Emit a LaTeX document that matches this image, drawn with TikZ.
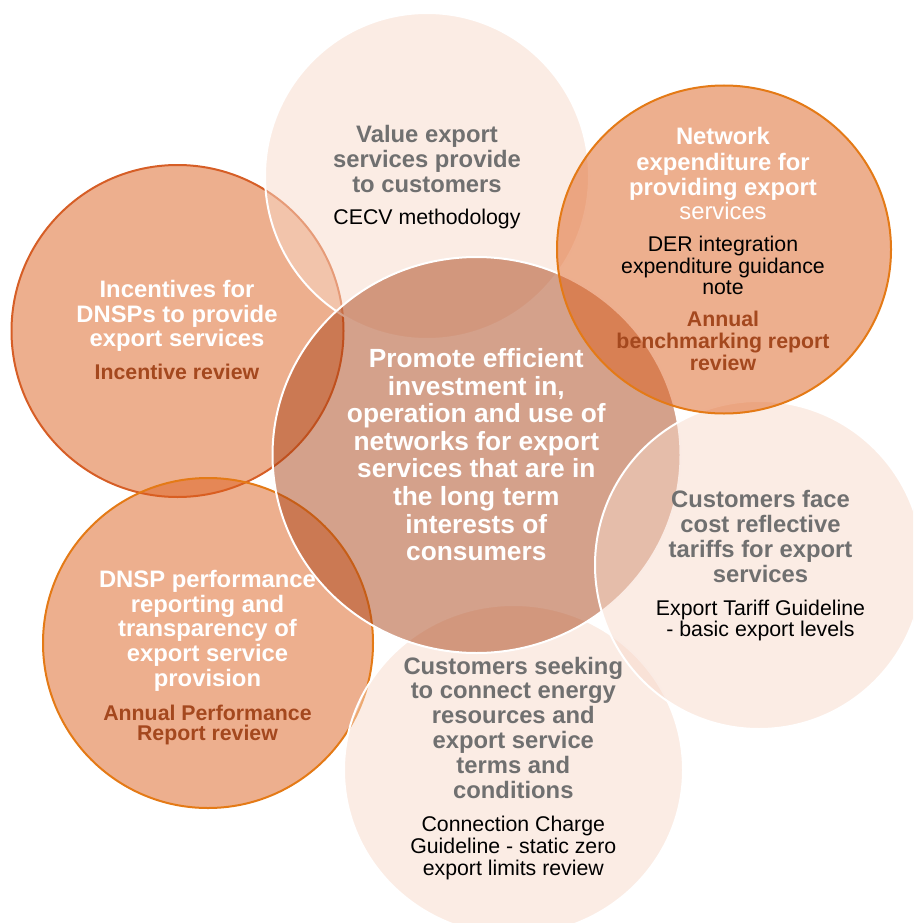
\documentclass[tikz,border=0pt]{standalone}
\usepackage{fontspec}
\setmainfont{Liberation Sans}

\definecolor{peach}{RGB}{247,217,202}
\definecolor{ember}{RGB}{220,95,30}
\definecolor{umber}{RGB}{170,68,24}
\definecolor{rimred}{RGB}{214,94,38}
\definecolor{rimorange}{RGB}{228,122,22}
\definecolor{greytext}{RGB}{112,112,112}
\definecolor{rust}{RGB}{164,72,30}

\tikzset{
  softdisc/.style={fill=peach, fill opacity=0.5, draw=white, line width=2pt},
  warmdisc/.style={fill=ember, fill opacity=0.5, line width=2pt},
  coredisc/.style={fill=umber, fill opacity=0.5, draw=white, line width=2pt},
  txt/.style={inner sep=0pt, anchor=base},
  headgrey/.style={txt, text=greytext, font=\fontsize{23.8}{25}\selectfont\bfseries},
  headwhite/.style={txt, text=white, font=\fontsize{23.8}{25}\selectfont\bfseries},
  headplain/.style={txt, text=white, font=\fontsize{23.8}{25}\selectfont},
  coretext/.style={txt, text=white, font=\fontsize{26.3}{27.6}\selectfont\bfseries},
  desc/.style={txt, text=black, font=\fontsize{21.3}{22}\selectfont},
  review/.style={txt, text=rust, font=\fontsize{21.3}{22}\selectfont\bfseries},
}

% one base-anchored node per line: name, x, first baseline, line step, style, lines
\newcommand\stacklines[6]{%
  \foreach \lineitem [count=\idx] in {#6} {
    \node[#5] (#1-\idx) at ({#2},{#3+(\idx-1)*#4}) {\lineitem};
  }}

\begin{document}
\begin{tikzpicture}[x=1pt, y=-1pt]
  \useasboundingbox (0,0) rectangle (913,923);
  \clip (0,0) rectangle (913,923);

  % discs, back to front
  \draw[warmdisc, draw=rimred]    (177.5,331) ellipse[x radius=166, y radius=166];
  \draw[softdisc]                 (427,176)   ellipse[x radius=162, y radius=163];
  \draw[warmdisc, draw=rimorange] (208,643)   ellipse[x radius=165, y radius=165];
  \draw[softdisc]                 (513.5,770) ellipse[x radius=169.5, y radius=165];
  \draw[coredisc]                 (476.5,455) ellipse[x radius=204, y radius=198];
  \draw[softdisc]                 (759,565)   ellipse[x radius=164, y radius=164];
  \draw[warmdisc, draw=rimorange] (724,249.5) ellipse[x radius=167, y radius=164];

  % value of export services
  \stacklines{valh}{427}{142.7}{25}{headgrey}{Value export, services provide, to customers}
  \stacklines{vald}{427}{224.3}{21.7}{desc}{CECV methodology}

  % network expenditure
  \stacklines{neth}{723}{145}{25}{headwhite}{Network, expenditure for, providing export}
  \node[headplain] (neth-4) at (723,219.5) {services};
  \stacklines{netd}{723}{251.7}{21.5}{desc}{DER integration, expenditure guidance, note}
  \stacklines{netr}{723}{326.7}{21.7}{review}{Annual, benchmarking report, review}

  % incentives
  \stacklines{inch}{177}{297.3}{24.7}{headwhite}{Incentives for, DNSPs to provide, export services}
  \stacklines{incr}{177}{379.3}{21.7}{review}{Incentive review}

  % central objective
  \stacklines{core}{476.3}{367.7}{27.57}{coretext}{Promote efficient, {investment in,}, operation and use of, networks for export, services that are in, the long term, interests of, consumers}

  % export tariffs
  \stacklines{tarh}{760.5}{507.3}{25}{headgrey}{Customers face, cost reflective, tariffs for export, services}
  \stacklines{tard}{760.5}{615}{21.7}{desc}{Export Tariff Guideline, - basic export levels}

  % performance reporting
  \stacklines{perh}{207.5}{587.3}{24.7}{headwhite}{DNSP performance, reporting and, transparency of, export service, provision}
  \stacklines{perr}{207.5}{720}{20.7}{review}{Annual Performance, Report review}

  % connection terms
  \stacklines{conh}{513.3}{674}{24.86}{headgrey}{Customers seeking, to connect energy, resources and, export service, terms and, conditions}
  \stacklines{cond}{513.3}{831.7}{21.65}{desc}{Connection Charge, Guideline - static zero, export limits review}
\end{tikzpicture}
\end{document}
